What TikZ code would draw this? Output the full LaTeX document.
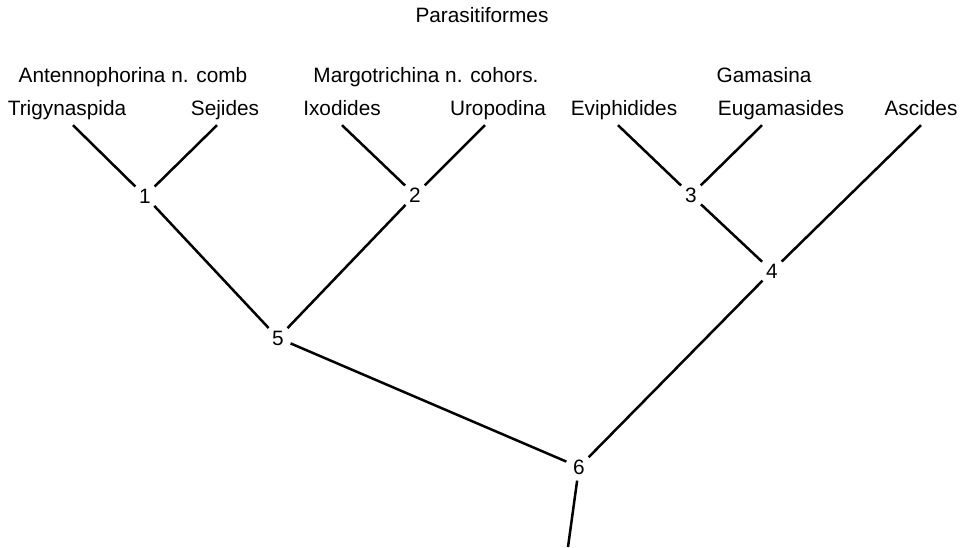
\documentclass[tikz,border=0pt]{standalone}
\usepackage{fontspec}
\setmainfont{Liberation Sans}
\usepackage{tikz}
\usetikzlibrary{arrows,positioning}

\tikzset{
	every node/.style={font=\fontsize{20.8}{25}\selectfont},
	taxon/.style={inner xsep=0pt, inner ysep=5.5pt, text height=15pt, text depth=4.5pt, anchor=base},
	clade/.style={anchor=base, inner sep=0pt},
	split/.style={circle, inner sep=3pt},
	branch/.style={line width=2.5pt}
}

\begin{document}
\begin{tikzpicture}[auto, x=1pt, y=-1pt]
				\useasboundingbox (0, 0) rectangle (967, 547);

				\node [clade] (para) at (482, 22) {Parasitiformes};
				\node [clade] (anten) at (133, 82) {Antennophorina n. comb};
				\node [clade] (margo) at (426, 82) {Margotrichina n. cohors.};
				\node [clade] (gamas) at (764, 82) {Gamasina};

				\node [taxon] (trig) at (67, 115) {Trigynaspida};
				\node [taxon] (sej) at (225, 115) {Sejides};
				\node [taxon] (ixo) at (342, 115) {Ixodides};
				\node [taxon] (uro) at (498, 115) {Uropodina};
				\node [taxon] (evi) at (624, 115) {Eviphidides};
				\node [taxon] (eug) at (781, 115) {Eugamasides};
				\node [taxon] (asc) at (921, 115) {Ascides};

				\node [split] (node1) at (145, 196) {1};
				\node [split] (node2) at (415, 195) {2};
				\node [split] (node3) at (691, 195) {3};
				\node [split] (node4) at (772, 271) {4};
				\node [split] (node5) at (278, 338) {5};
				\node [split] (node6) at (579, 467) {6};
				\coordinate (root) at (568, 547);

				\draw [branch] ([xshift=6pt]trig.south) to (node1);
				\draw [branch] ([xshift=-8pt]sej.south) to (node1);
				\draw [branch] (ixo.south) to (node2);
				\draw [branch] ([xshift=-13pt]uro.south) to (node2);
				\draw [branch] ([xshift=-6pt]evi.south) to (node3);
				\draw [branch] ([xshift=-19pt]eug.south) to (node3);
				\draw [branch] (asc.south) to (node4);
				\draw [branch] (node3) to (node4);
				\draw [branch] (node1) to (node5);
				\draw [branch] (node2) to (node5);
				\draw [branch] (node5) to (node6);
				\draw [branch] (node4) to (node6);
				\draw [branch] (node6) to (root);
		\end{tikzpicture}
\end{document}
